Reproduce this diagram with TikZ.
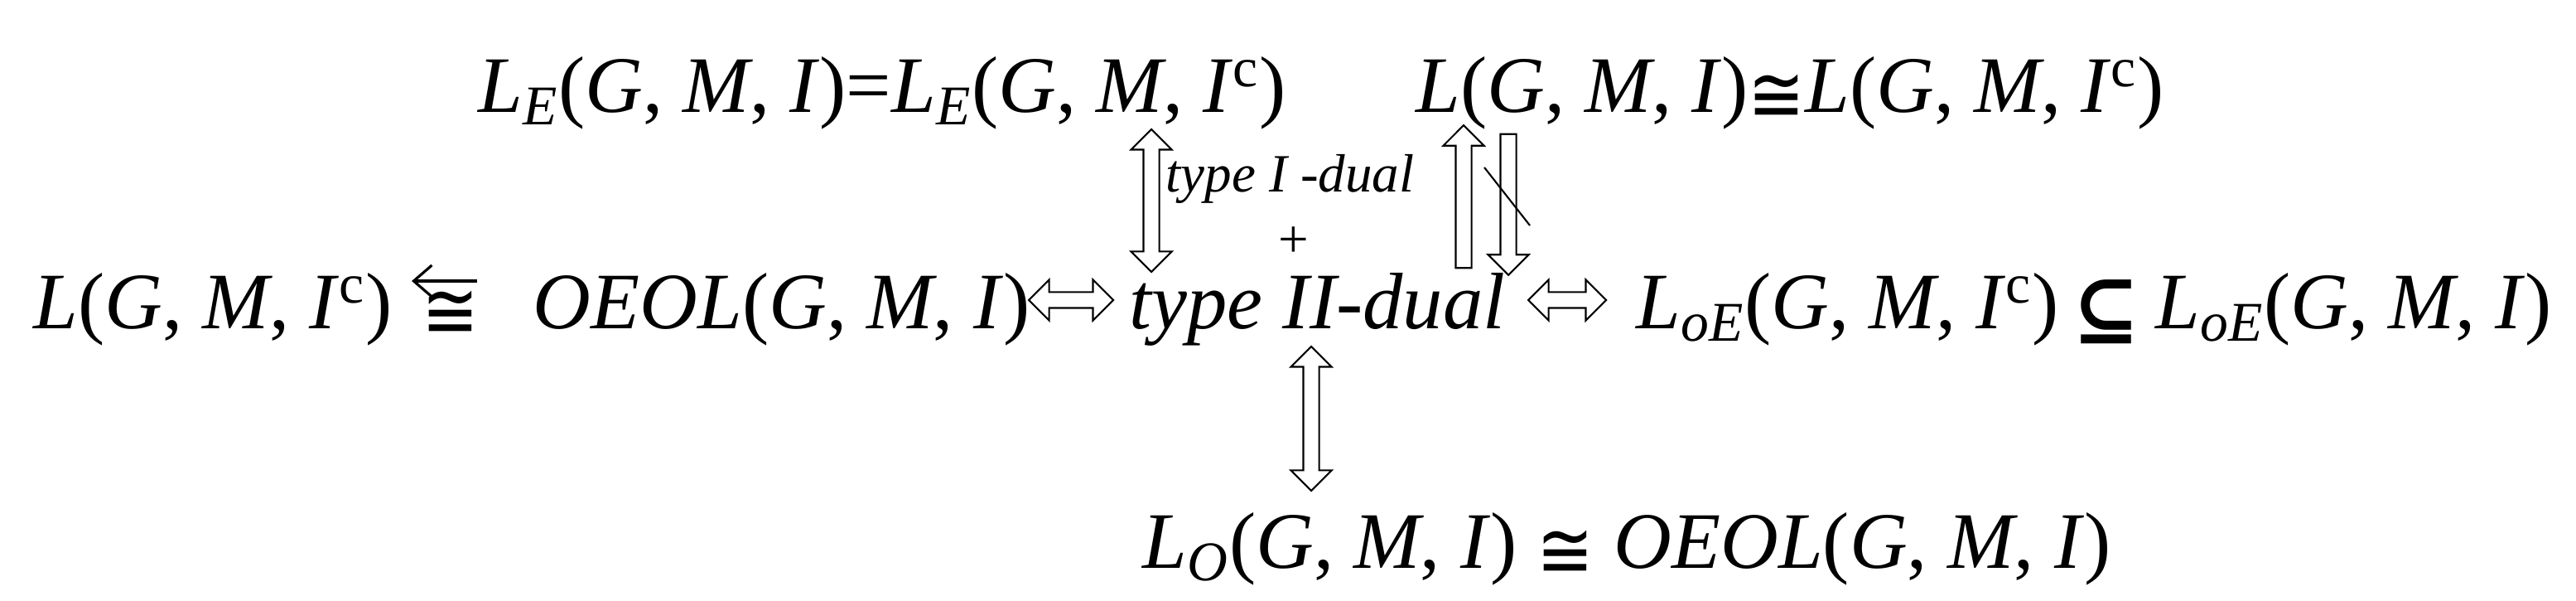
\documentclass[tikz,border=0pt]{standalone}
\usepackage{fontspec}
\setmainfont{Liberation Serif}
\newfontfamily\symfont{DejaVu Serif}
\newfontfamily\isofont{DejaVu Sans}
\usepackage{graphicx,color}
\usepackage{tikz}
\usetikzlibrary{shapes.arrows,arrows.meta}

\newcommand{\bigfont}{\fontsize{27.5pt}{33pt}\selectfont}
\newcommand{\smallfont}{\fontsize{18.5pt}{22pt}\selectfont}
\newcommand{\V}[1]{\textit{#1}}
\newcommand{\iso}{\raisebox{-0.12em}{\scalebox{0.85}[1]{\isofont ≅}}}
\newcommand{\subs}{\raisebox{-0.1em}{\symfont\bfseries ⊆}}

\begin{document}
\begin{tikzpicture}[expr/.style={anchor=base west,inner sep=0pt,font=\bigfont},
    dblarr/.style={draw,line width=0.6pt,shape=double arrow,inner xsep=0pt,inner ysep=0.085cm,
        double arrow head extend=0.15cm,minimum width=0.47cm},
    sglarr/.style={draw,line width=0.6pt,shape=single arrow,inner xsep=0pt,inner ysep=0.085cm,
        single arrow head extend=0.15cm,minimum width=0.47cm}]
    \useasboundingbox (0,0) rectangle (31.10,7.25);
    % top row
    \node[expr] (lE) at (5.77,5.89) {\V{L}\textsubscript{\V{E}}(\V{G}, \V{M}, \V{I})=\V{L}\textsubscript{\V{E}}(\V{G}, \V{M}, \V{I}\textsuperscript{c})};
    \node[expr] (lL) at (17.09,5.89) {\V{L}(\V{G}, \V{M}, \V{I})\iso\V{L}(\V{G}, \V{M}, \V{I}\textsuperscript{c})};
    % middle row
    \node[expr] (lc) at (0.40,3.28) {\V{L}(\V{G}, \V{M}, \V{I}\textsuperscript{c})};
    \node[expr] (liso) at (5.09,3.28) {\iso};
    \node[expr] (oeol) at (6.43,3.28) {\V{OEOL}(\V{G}, \V{M}, \V{I})};
    \node[expr] (dual) at (13.63,3.28) {\V{type II-dual}};
    \node[expr] (loe1) at (19.75,3.28) {\V{L}\textsubscript{\V{oE}}(\V{G}, \V{M}, \V{I}\textsuperscript{c})};
    \node[expr] (sub) at (25.02,3.28) {\subs};
    \node[expr] (loe2) at (26.02,3.28) {\V{L}\textsubscript{\V{oE}}(\V{G}, \V{M}, \V{I})};
    % bottom row
    \node[expr] (lO) at (13.79,0.39) {\V{L}\textsubscript{\V{O}}(\V{G}, \V{M}, \V{I}) \iso{} \V{OEOL}(\V{G}, \V{M}, \V{I})};
    % labels between rows
    \node[anchor=base west,inner sep=0pt,font=\smallfont] (typeI) at (14.07,4.93) {\V{type I -dual}};
    \node[inner sep=0pt,font=\smallfont] (plus) at (15.62,4.33) {+};
    % arrow over the iso sign
    \coordinate (a1) at (5.76,3.86);
    \coordinate (a2) at (4.97,3.86);
    \draw[line width=0.9pt,-{Straight Barb[length=0.22cm,width=0.38cm]}] (a1) -- (a2);
    % hollow arrows
    \node[dblarr,minimum height=1.02cm] (h1) at (12.93,3.63) {};
    \node[dblarr,minimum height=0.94cm] (h2) at (18.92,3.63) {};
    \node[dblarr,rotate=90,minimum height=1.72cm] (v1) at (13.90,4.83) {};
    \node[dblarr,rotate=90,minimum height=1.74cm] (v2) at (15.83,2.20) {};
    \node[sglarr,rotate=90,minimum height=1.72cm] (up) at (17.67,4.83) {};
    \node[sglarr,rotate=-90,minimum height=1.70cm] (dn) at (18.21,4.83) {};
    \coordinate (s1) at (17.92,5.23);
    \coordinate (s2) at (18.47,4.53);
    \draw[line width=0.6pt] (s1) -- (s2);
\end{tikzpicture}
\end{document}
